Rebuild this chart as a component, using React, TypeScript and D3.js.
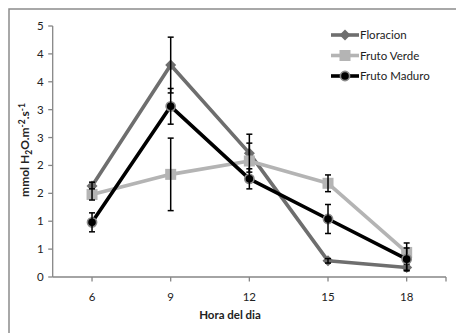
import React from "react";
import * as d3 from "d3";

const hours = ["6", "9", "12", "15", "18"];
const seriesNames = ["Floracion", "Fruto Verde", "Fruto Maduro"];
const floracion = [1.63, 3.8, 2.22, 0.29, 0.17];
const floracionErr = [0.07, 0.5, 0.34, 0.04, 0.06];
const frutoVerde = [1.48, 1.84, 2.08, 1.68, 0.44];
const frutoVerdeErr = [0.1, 0.65, 0.32, 0.15, 0.17];
const frutoMaduro = [0.98, 3.06, 1.76, 1.04, 0.32];
const frutoMaduroErr = [0.17, 0.32, 0.18, 0.26, 0.2];
const yTicks = d3.range(0, 4.51, 0.5);

const W = 456;
const H = 333;
const left = 52.7;
const right = 446;
const top = 26;
const bottom = 277;
const font = "Lato, 'Open Sans', sans-serif";

type Series = {
  name: string;
  values: number[];
  err: number[];
  color: string;
  marker: "diamond" | "square" | "circle";
};

const series: Series[] = [
  { name: seriesNames[0], values: floracion, err: floracionErr, color: "#6e6e6e", marker: "diamond" },
  { name: seriesNames[1], values: frutoVerde, err: frutoVerdeErr, color: "#b4b4b4", marker: "square" },
  { name: seriesNames[2], values: frutoMaduro, err: frutoMaduroErr, color: "#000000", marker: "circle" },
];

function Marker({ s, x, y }: { s: Series; x: number; y: number }) {
  if (s.marker === "diamond") {
    const r = 5.5;
    return <path d={`M${x},${y - r}L${x + r},${y}L${x},${y + r}L${x - r},${y}Z`} fill={s.color} />;
  }
  if (s.marker === "square") {
    return <rect x={x - 5.5} y={y - 5.5} width={11} height={11} fill={s.color} />;
  }
  return <circle cx={x} cy={y} r={4.6} fill="#000" stroke="#8a8a8a" strokeWidth={1.6} />;
}

export default function App() {
  const x = d3.scaleBand<string>().domain(hours).range([left, right]).padding(0);
  const y = d3.scaleLinear().domain([0, 4.5]).range([bottom, top]);
  const cx = (h: string) => (x(h) ?? 0) + x.bandwidth() / 2;
  const line = d3
    .line<number>()
    .x((_, i) => cx(hours[i]))
    .y((v) => y(v));

  const legendX = 331;
  const legendY = [35, 55.5, 76];

  return (
    <svg width={W} height={H} style={{ position: "absolute", left: 0, top: 0, background: "#fff" }}>
      <rect x={9} y={9} width={W + 10} height={H + 10} fill="#fff" stroke="#8c8c8c" strokeWidth={1.5} />

      {/* axes */}
      <line x1={left} x2={left} y1={top} y2={bottom} stroke="#868686" strokeWidth={1.3} />
      <line x1={left} x2={right} y1={bottom} y2={bottom} stroke="#868686" strokeWidth={1.3} />
      {yTicks.map((t) => (
        <g key={t}>
          <line x1={left - 4.5} x2={left} y1={y(t)} y2={y(t)} stroke="#868686" strokeWidth={1.3} />
          <text x={left - 9} y={y(t)} dy="0.35em" textAnchor="end" fontFamily={font} fontSize={11.5} fill="#222">
            {Math.round(t)}
          </text>
        </g>
      ))}
      {hours.map((h) => (
        <g key={h}>
          <line x1={cx(h)} x2={cx(h)} y1={bottom} y2={bottom + 4.5} stroke="#868686" strokeWidth={1.3} />
          <text x={cx(h)} y={bottom + 20} dy="0.35em" textAnchor="middle" fontFamily={font} fontSize={11.5} fill="#222">
            {h}
          </text>
        </g>
      ))}
      <line x1={right} x2={right} y1={bottom} y2={bottom + 4.5} stroke="#868686" strokeWidth={1.3} />

      <text x={230} y={315} dy="0.35em" textAnchor="middle" fontFamily={font} fontSize={11.5} fontWeight="bold" fill="#222">
        Hora del dia
      </text>
      <text
        transform="translate(25,150) rotate(-90)"
        textAnchor="middle"
        dy="0.35em"
        fontFamily={font}
        fontSize={12}
        fontWeight="bold"
        fill="#222"
      >
        mmol H<tspan dy="3" fontSize={8.5}>2</tspan>
        <tspan dy="-3">O.m</tspan>
        <tspan dy="-4" fontSize={8.5}>-2</tspan>
        <tspan dy="4">.s</tspan>
        <tspan dy="-4" fontSize={8.5}>-1</tspan>
      </text>

      {/* series */}
      {series.map((s) => (
        <g key={s.name}>
          <path d={line(s.values) ?? ""} fill="none" stroke={s.color} strokeWidth={3.6} strokeLinejoin="round" />
          {s.values.map((v, i) => (
            <Marker key={i} s={s} x={cx(hours[i])} y={y(v)} />
          ))}
          {s.values.map((v, i) => {
            const px = cx(hours[i]);
            const y1 = y(v + s.err[i]);
            const y2 = y(v - s.err[i]);
            return (
              <g key={"e" + i} stroke="#000" strokeWidth={1.5}>
                <line x1={px} x2={px} y1={y1} y2={y2} />
                <line x1={px - 3} x2={px + 3} y1={y1} y2={y1} />
                <line x1={px - 3} x2={px + 3} y1={y2} y2={y2} />
              </g>
            );
          })}
        </g>
      ))}

      {/* legend */}
      {series.map((s, i) => (
        <g key={"l" + s.name}>
          <line x1={legendX} x2={legendX + 28} y1={legendY[i]} y2={legendY[i]} stroke={s.color} strokeWidth={3.6} />
          <Marker s={s} x={legendX + 14} y={legendY[i]} />
          <text x={legendX + 29} y={legendY[i]} dy="0.35em" fontFamily={font} fontSize={11.5} fill="#222">
            {s.name}
          </text>
        </g>
      ))}
    </svg>
  );
}
